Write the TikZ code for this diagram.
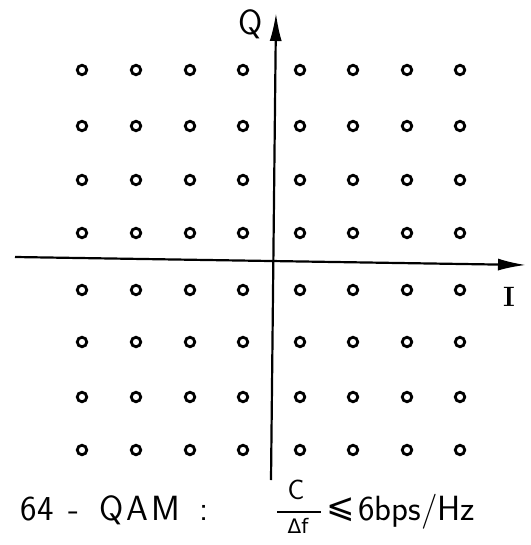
\documentclass[tikz,border=0pt]{standalone}
\usepackage{fontspec}
\usepackage{tikz}
\usetikzlibrary{arrows.meta}
\usetikzlibrary{positioning}
\newfontfamily\symfont{DejaVu Sans}

\begin{document}
\begin{tikzpicture}[
  x=1pt,y=-1pt,
  every node/.style={font=\sffamily\fontsize{35}{40}\selectfont,inner sep=0pt},
  symbol/.style={circle,draw,line width=2.8pt,minimum size=9.5pt,inner sep=0pt},
  axis/.style={line width=2.2pt,-{Latex[length=28pt,width=12pt]}},
  caption/.style={anchor=base west}]
\useasboundingbox (0,0) rectangle (530,545);
% axes
\coordinate (west) at (15,257);
\coordinate (east) at (526,265);
\coordinate (south) at (271,480);
\coordinate (north) at (276,13);
\draw[axis] (west) -- (east);
\draw[axis] (south) -- (north);
\node (q) at (251,24) {Q};
\node[font=\rmfamily\bfseries\fontsize{28}{32}\selectfont] (i) at (509,297) {I};
% constellation
\foreach \x [count=\i] in {82,136,190,243,300,353,407,460}
  \foreach \y [count=\j] in {70,126,180,233,290,342,397,450}
    \node[symbol] (p-\i-\j) at (\x,\y) {};
% caption
\node[caption] (num) at (20,520) {6\kern1pt4};
\node[caption] (dash) at (68,520) {-};
\node[caption] (mod) at (99,520) {Q\kern3ptA\kern3ptM};
\node[caption] (colon) at (199,520) {:};
\node[font=\sffamily\fontsize{28}{32}\selectfont] (c) at (296,490) {C};
\node[font=\symfont\fontsize{20}{24}\selectfont] (df) at (298,526) {Δf};
\coordinate (barl) at (277,512);
\coordinate (barr) at (321,512);
\draw[line width=1.6pt] (barl) -- (barr);
\node[font=\symfont\fontsize{34}{40}\selectfont] (le) at (341,510) {⩽};
\node[caption] (rate) at (358,520) {6bps/Hz};
\end{tikzpicture}
\end{document}
